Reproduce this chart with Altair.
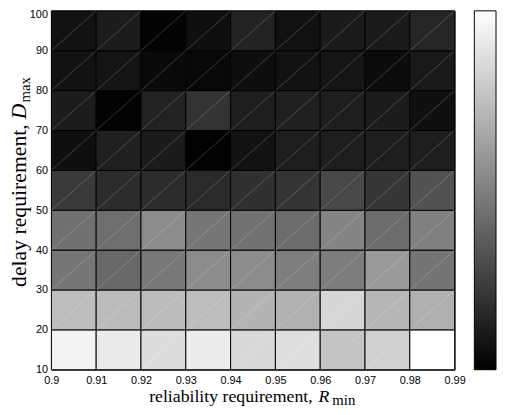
import altair as alt
import pandas as pd

# cell left edges (reliability) and bottom edges (delay)
R_LEFT = [0.90, 0.91, 0.92, 0.93, 0.94, 0.95, 0.96, 0.97, 0.98]
D_BOTTOM = [10, 20, 30, 40, 50, 60, 70, 80, 90]
X_TICKS = [0.9, 0.91, 0.92, 0.93, 0.94, 0.95, 0.96, 0.97, 0.98, 0.99]
Y_TICKS = [10, 20, 30, 40, 50, 60, 70, 80, 90, 100]

# cell values (0..255 scale), one list per delay row
row_10 = [242, 234, 220, 236, 216, 222, 196, 208, 255]
row_20 = [189, 187, 188, 189, 180, 178, 214, 182, 176]
row_30 = [118, 104, 120, 140, 140, 126, 124, 154, 116]
row_40 = [112, 110, 140, 118, 114, 108, 132, 108, 128]
row_50 = [58, 44, 44, 42, 48, 52, 72, 54, 82]
row_60 = [15, 32, 27, 2, 18, 30, 30, 30, 30]
row_70 = [28, 2, 34, 51, 30, 32, 30, 28, 16]
row_80 = [18, 20, 10, 8, 14, 18, 21, 12, 25]
row_90 = [18, 28, 3, 15, 34, 17, 26, 26, 38]
ROWS = [row_10, row_20, row_30, row_40, row_50, row_60, row_70, row_80, row_90]

recs = []
for d, row in zip(D_BOTTOM, ROWS):
    for r, v in zip(R_LEFT, row):
        recs.append({"R": r, "R2": round(r + 0.01, 2), "D": d, "D2": d + 10, "v": v})
df = pd.DataFrame(recs)

W, H = 409, 364

xscale = alt.Scale(domain=[0.9, 0.99], nice=False, zero=False)
yscale = alt.Scale(domain=[10, 100], nice=False, zero=False)

heat = alt.Chart(df).mark_rect(stroke="black", strokeWidth=1).encode(
    x=alt.X("R:Q", scale=xscale,
            axis=alt.Axis(values=X_TICKS, format=".2~f", title=None, ticks=False,
                          domain=False, grid=False, labelPadding=5, labelFlush=False)),
    x2="R2:Q",
    y=alt.Y("D:Q", scale=yscale,
            axis=alt.Axis(values=Y_TICKS, title=None, ticks=False, domain=False,
                          grid=False, labelPadding=4, labelFlush=False,
                          labelOffset={"condition": {"test": "datum.value == 100", "value": 4},
                                       "value": 0})),
    y2="D2:Q",
    color=alt.Color("v:Q",
                    scale=alt.Scale(domain=[0, 255], range=["#000000", "#ffffff"],
                                    interpolate="rgb"),
                    legend=alt.Legend(title=None, gradientLength=H, gradientThickness=22,
                                      offset=20, padding=0, labelExpr="''",
                                      gradientStrokeColor="black",
                                      gradientStrokeWidth=1, direction="vertical")),
)

diag = alt.Chart(df).mark_rule(color="white", opacity=0.25, strokeWidth=0.8).encode(
    x="R:Q", x2="R2:Q", y="D:Q", y2="D2:Q"
)

one = pd.DataFrame({"k": [0]})
serif = "Liberation Serif"
xt_main = alt.Chart(one).mark_text(text="reliability requirement,", font=serif, fontSize=18,
                                   align="right", baseline="alphabetic", color="black").encode(
    x=alt.value(265), y=alt.value(397))
xt_R = alt.Chart(one).mark_text(text="R", font=serif, fontSize=18, fontStyle="italic",
                                align="left", baseline="alphabetic", color="black").encode(
    x=alt.value(271), y=alt.value(397))
xt_min = alt.Chart(one).mark_text(text="min", font=serif, fontSize=15,
                                  align="left", baseline="alphabetic", color="black").encode(
    x=alt.value(285), y=alt.value(400))

yt_main = alt.Chart(one).mark_text(text="delay requirement,", font=serif, fontSize=22,
                                   angle=270, align="left", baseline="alphabetic",
                                   color="black").encode(
    x=alt.value(-26), y=alt.value(280))
yt_D = alt.Chart(one).mark_text(text="D", font=serif, fontSize=22, fontStyle="italic",
                                angle=270, align="left", baseline="alphabetic",
                                color="black").encode(
    x=alt.value(-26), y=alt.value(110))
yt_max = alt.Chart(one).mark_text(text="max", font=serif, fontSize=15,
                                  angle=270, align="left", baseline="alphabetic",
                                  color="black").encode(
    x=alt.value(-22), y=alt.value(93))

chart = alt.layer(heat, diag, xt_main, xt_R, xt_min, yt_main, yt_D, yt_max).properties(
    width=W, height=H, autosize="none",
    padding={"left": 44, "top": 0, "right": 44, "bottom": 42},
).configure_view(stroke="black", strokeWidth=1).configure_axis(
    labelFont="Liberation Sans", labelFontSize=11, labelColor="black"
).configure_legend(gradientVerticalMaxLength=400)

chart.save("out.html", embed_options={"renderer": "svg", "actions": False})
